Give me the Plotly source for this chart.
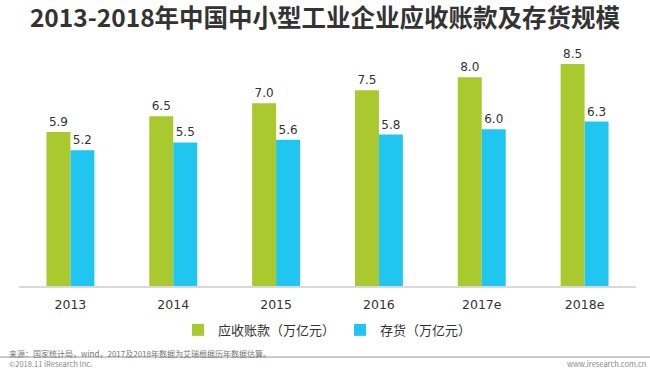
import plotly.graph_objects as go

categories = ["2013", "2014", "2015", "2016", "2017e", "2018e"]
receivables = [5.9, 6.5, 7.0, 7.5, 8.0, 8.5]
inventory = [5.2, 5.5, 5.6, 5.8, 6.0, 6.3]
series_names = ["应收账款（万亿元）", "存货（万亿元）"]

title_text = "2013-2018年中国中小型工业企业应收账款及存货规模"
source_text = "来源：国家统计局，wind，2017及2018年数据为艾瑞根据历年数据估算。"
copyright_text = "©2018.11 iResearch Inc."
site_text = "www.iresearch.com.cn"

GREEN = "#a9c92e"
BLUE = "#21c6f0"
FONT = "Noto Sans CJK SC"

fig = go.Figure()
fig.add_trace(go.Bar(
    x=categories, y=receivables, name=series_names[0],
    marker=dict(color=GREEN, line=dict(width=0)),
    text=[f"{v:.1f}" for v in receivables], textposition="outside",
    textfont=dict(size=12, color="#333333", family="DejaVu Sans"),
    cliponaxis=False,
))
fig.add_trace(go.Bar(
    x=categories, y=inventory, name=series_names[1],
    marker=dict(color=BLUE, line=dict(width=0)),
    text=[f"{v:.1f}" for v in inventory], textposition="outside",
    textfont=dict(size=12, color="#333333", family="DejaVu Sans"),
    cliponaxis=False,
))

fig.update_layout(
    width=650, height=377,
    margin=dict(l=19, r=14, t=50, b=91),
    paper_bgcolor="white", plot_bgcolor="white",
    barmode="group", bargap=0.534, bargroupgap=0,
    font=dict(family=FONT, color="#333333"),
    title=dict(text=f"<b>{title_text}</b>", x=0.5, xanchor="center",
               y=0.95, yanchor="middle",
               font=dict(size=24.5, color="#333333", family=FONT)),
    xaxis=dict(showgrid=False, showline=True, linecolor="#d9d9d9", linewidth=2,
               ticks="", ticklabelstandoff=6,
               tickfont=dict(size=12.5, color="#333333", family="DejaVu Sans"),
               fixedrange=True),
    yaxis=dict(range=[0, 9.04], visible=False, fixedrange=True),
    legend=dict(orientation="h", x=0.5, xanchor="center", y=-0.186, yanchor="middle",
                font=dict(size=13, color="#333333", family=FONT),
                itemwidth=30, traceorder="normal"),
    showlegend=True,
)

fig.add_annotation(text=source_text, xref="paper", yref="paper",
                   x=-0.019, y=-0.284, xanchor="left", yanchor="middle",
                   showarrow=False, font=dict(size=8, color="#777777", family=FONT))
fig.add_annotation(text=copyright_text, xref="paper", yref="paper",
                   x=-0.019, y=-0.33, xanchor="left", yanchor="middle",
                   showarrow=False, font=dict(size=7.5, color="#888888", family=FONT))
fig.add_annotation(text=site_text, xref="paper", yref="paper",
                   x=1.019, y=-0.33, xanchor="right", yanchor="middle",
                   showarrow=False, font=dict(size=7.5, color="#888888", family=FONT))
fig.add_shape(type="line", xref="paper", yref="paper",
              x0=-0.031, x1=1.023, y0=-0.301, y1=-0.301,
              line=dict(color="#999999", width=1))

fig.write_html("out.html", config={"displayModeBar": False},
               post_script="document.body.style.margin='0';")
